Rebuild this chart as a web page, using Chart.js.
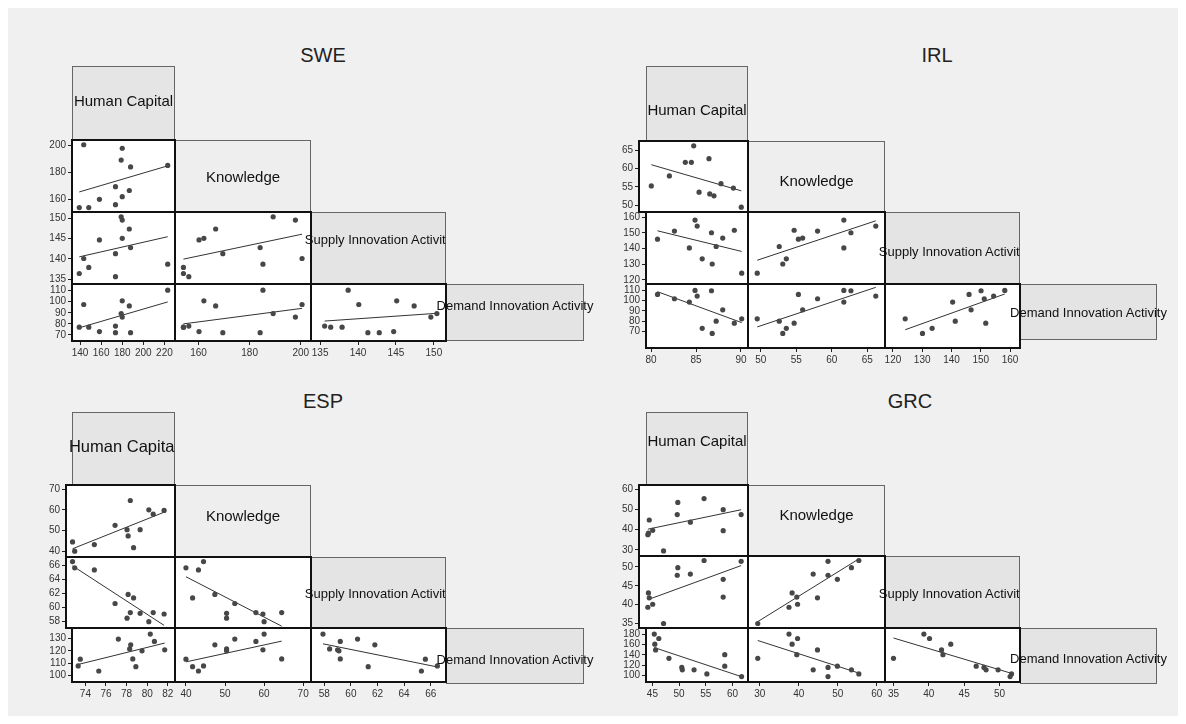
<!DOCTYPE html>
<html>
<head>
<meta charset="utf-8">
<script src="https://cdn.jsdelivr.net/npm/chart.js@4.4.0/dist/chart.umd.min.js"></script>
<style>
  body { margin: 0; background: #fff; font-family: "Liberation Sans", Arial, sans-serif; }
  #bg { position: absolute; left: 8px; top: 8px; width: 1170px; height: 708px; background: #f0f0f0; }
  .title { position: absolute; font-size: 20px; color: #222; transform: translate(-50%, -50%); white-space: nowrap; }
  .box { position: absolute; box-sizing: border-box; border: 1px solid #666; }
  .lab { position: absolute; display: flex; align-items: center; justify-content: center;
         white-space: nowrap; color: #111; z-index: 3; }
  canvas { position: absolute; z-index: 2; }
</style>
</head>
<body>
<div id="bg"></div>
<script>
const varNames = ['Human Capital', 'Knowledge', 'Supply Innovation Activity', 'Demand Innovation Activity'];

// Sweden
const sweHumanCapital = [139.3, 143.5, 148.3, 158.4, 173.6, 173.6, 179, 180, 180, 186.7, 187.9, 223.1];
const sweKnowledge    = [154.1, 200.5, 154.1, 160.2, 169.5, 156.2, 189.2, 197.9, 162.1, 166.7, 184.1, 185.2];
const sweSupply       = [136.4, 140.1, 137.9, 144.7, 141.3, 135.6, 150.4, 149.6, 145.1, 147.4, 142.8, 138.7];
const sweDemand       = [77, 97.5, 77, 73, 72, 78, 89.3, 86.1, 100.8, 96.2, 72, 110.4];
const sweTicks = [[140, 160, 180, 200, 220], [160, 180, 200], [135, 140, 145, 150], [70, 80, 90, 100, 110]];

// Ireland
const irlHumanCapital = [80.72, 82.6, 84.26, 84.89, 85.13, 85.69, 86.72, 86.8, 87.24, 87.97, 89.26, 90.08];
const irlKnowledge    = [55.3, 58.0, 61.7, 61.7, 66.2, 53.6, 62.7, 53.1, 52.6, 55.9, 54.7, 49.5];
const irlSupply       = [146.0, 151.2, 140.4, 158.2, 154.4, 133.4, 150.1, 130.1, 141.3, 146.7, 151.7, 124.2];
const irlDemand       = [106.1, 101.9, 98.6, 110, 104.5, 73, 109.7, 68, 80, 91.1, 78, 82.3];
const irlTicks = [[80, 85, 90], [50, 55, 60, 65], [120, 130, 140, 150, 160], [70, 80, 90, 100, 110]];

// Spain
const espHumanCapital = [73.3, 73.5, 75.3, 77.2, 78.3, 78.4, 78.6, 78.9, 79.5, 80.3, 80.7, 81.7];
const espKnowledge    = [44.5, 40, 43.2, 52.5, 50.4, 47.4, 64.5, 41.7, 50.4, 60, 57.9, 59.7];
const espSupply       = [66.5, 65.6, 65.3, 60.5, 58.4, 61.8, 59.2, 61.3, 59.1, 57.9, 59.2, 59];
const espDemand       = [107.8, 113.3, 103.7, 129.5, 121.6, 124.9, 113.5, 107.2, 120, 133.6, 127.6, 120.8];
const espTicks = [[74, 76, 78, 80, 82], [40, 50, 60, 70], [58, 60, 62, 64, 66], [100, 110, 120, 130]];

// Greece
const grcHumanCapital = [45.35, 45.45, 45.6, 46.2, 48.1, 50.5, 50.6, 52.8, 55.2, 58.55, 58.55, 61.7];
const grcKnowledge    = [37.5, 38.3, 44.8, 39.7, 29.5, 47.5, 53.5, 43.7, 55.4, 49.9, 39.5, 47.5];
const grcSupply       = [39.3, 43.1, 41.8, 40.1, 35, 47.8, 49.8, 48.1, 51.7, 46.7, 42, 51.5];
const grcDemand       = [180, 160.5, 149.4, 171.4, 133.2, 115.6, 110.9, 110.9, 103.1, 118.1, 140.2, 98];
const grcTicks = [[45, 50, 55, 60], [30, 40, 50, 60], [35, 40, 45, 50], [100, 120, 140, 160, 180]];

// xs: column edges, ys: row edges (diagonal header row first), rowLeft: left edge of first column per row,
// labDy: vertical nudge of each header text, labSize: header font sizes
const panels = [
  { title: 'SWE', at: [323, 55], vars: [sweHumanCapital, sweKnowledge, sweSupply, sweDemand], ticks: sweTicks,
    lim: [[132.4, 230], [150.8, 204], [133.8, 151.6], [64.5, 116]],
    xs: [72, 175, 311, 446, 584], ys: [66, 140, 212, 284, 341], rowLeft: [72, 72, 72], dBottom: 341,
    labDy: [-3, 0, -9, -7], labSize: [15, 15, 13, 13] },
  { title: 'IRL', at: [937, 55], vars: [irlHumanCapital, irlKnowledge, irlSupply, irlDemand], ticks: irlTicks,
    lim: [[79.44, 90.78], [48.2, 67.5], [117.3, 163.4], [53.8, 116.3]],
    xs: [646, 748, 885, 1020, 1157], ys: [66, 141, 212, 284, 348], rowLeft: [639, 646, 646], dBottom: 340,
    labDy: [6, 4, 3, 0], labSize: [15, 15, 13, 13] },
  { title: 'ESP', at: [323, 401], vars: [espHumanCapital, espKnowledge, espSupply, espDemand], ticks: espTicks,
    lim: [[72.7, 82.7], [37.2, 72], [57, 67.15], [94.8, 138.5]],
    xs: [72, 175, 311, 446, 584], ys: [412, 485, 557, 628, 682], rowLeft: [66, 66, 72], dBottom: 684,
    labDy: [-2, -6, 1, 3], labSize: [16.5, 15, 13, 13] },
  { title: 'GRC', at: [910, 401], vars: [grcHumanCapital, grcKnowledge, grcSupply, grcDemand], ticks: grcTicks,
    lim: [[43.8, 62.9], [27, 62.1], [33.8, 52.9], [87.5, 191.7]],
    xs: [646, 748, 885, 1020, 1157], ys: [412, 485, 556, 628, 682], rowLeft: [639, 639, 646], dBottom: 684,
    labDy: [-8, -6, 1, 2], labSize: [15, 15, 13, 13] }
];

const M = 40; // room around each plot cell for ticks and labels
const boxFill = ['#e5e5e5', '#eeeeee', '#e4e4e4', '#e4e4e4'];

// white plot area + dark frame
const cellFrame = {
  id: 'cellFrame',
  beforeDraw(chart) {
    const a = chart.chartArea, ctx = chart.ctx;
    ctx.save();
    ctx.fillStyle = '#fff';
    ctx.fillRect(a.left, a.top, a.width, a.height);
    ctx.restore();
  },
  afterDraw(chart) {
    const a = chart.chartArea, ctx = chart.ctx;
    ctx.save();
    ctx.strokeStyle = '#111';
    ctx.lineWidth = 2;
    ctx.strokeRect(a.left, a.top, a.width, a.height);
    ctx.restore();
  }
};

function fitLine(xv, yv) {
  const n = xv.length;
  const mx = xv.reduce((s, v) => s + v, 0) / n;
  const my = yv.reduce((s, v) => s + v, 0) / n;
  let sxy = 0, sxx = 0;
  for (let i = 0; i < n; i++) { sxy += (xv[i] - mx) * (yv[i] - my); sxx += (xv[i] - mx) ** 2; }
  const b = sxy / sxx, a = my - b * mx;
  const lo = Math.min(...xv), hi = Math.max(...xv);
  return [{ x: lo, y: a + b * lo }, { x: hi, y: a + b * hi }];
}

function axis(lim, ticks, show, dir) {
  return {
    type: 'linear', min: lim[0], max: lim[1], display: show,
    grid: { display: true, drawOnChartArea: false, drawTicks: true, tickLength: 4, color: '#222', lineWidth: 1 },
    border: { display: false },
    ticks: { autoSkip: false, maxRotation: 0, padding: 2, color: '#333',
             font: { family: '"Liberation Sans", Arial, sans-serif', size: 10 } },
    afterBuildTicks: s => { s.ticks = ticks.map(v => ({ value: v })); },
    afterFit: s => {
      const size = show ? M : 0;
      if (dir === 'x') s.height = size; else s.width = size;
      s.paddingLeft = s.paddingRight = s.paddingTop = s.paddingBottom = 0;
    }
  };
}

function el(cls, css, text) {
  const d = document.createElement('div');
  d.className = cls;
  Object.assign(d.style, css);
  if (text) d.textContent = text;
  document.body.appendChild(d);
  return d;
}

function drawCell(p, r, c) {
  const left = c === 0 ? p.rowLeft[r - 1] : p.xs[c];
  const right = p.xs[c + 1], top = p.ys[r], bottom = p.ys[r + 1];
  const showY = c === 0, showX = r === 3;
  const cv = document.createElement('canvas');
  cv.width = right - left + 2 * M;
  cv.height = bottom - top + 2 * M;
  cv.style.left = (left - M) + 'px';
  cv.style.top = (top - M) + 'px';
  document.body.appendChild(cv);

  const xv = p.vars[c], yv = p.vars[r];
  const pts = xv.map((x, i) => ({ x, y: yv[i] }));

  new Chart(cv, {
    type: 'scatter',
    data: {
      datasets: [
        { data: pts, pointRadius: 2.6, pointBackgroundColor: '#474747', pointBorderWidth: 0, clip: false, order: 0 },
        { data: fitLine(xv, yv), showLine: true, borderColor: '#333', borderWidth: 1, pointRadius: 0, clip: false, order: 1 }
      ]
    },
    options: {
      responsive: false, animation: false, events: [],
      layout: { padding: { left: showY ? 0 : M, right: M, top: M, bottom: showX ? 0 : M } },
      plugins: { legend: { display: false }, tooltip: { enabled: false } },
      scales: { x: axis(p.lim[c], p.ticks[c], showX, 'x'), y: axis(p.lim[r], p.ticks[r], showY, 'y') }
    },
    plugins: [cellFrame]
  });
}

panels.forEach(p => {
  el('title', { left: p.at[0] + 'px', top: p.at[1] + 'px' }, p.title);

  for (let i = 0; i < 4; i++) {
    const left = p.xs[i], right = p.xs[i + 1];
    const top = p.ys[i], bottom = i === 3 ? p.dBottom : p.ys[i + 1];
    const rect = { left: left + 'px', top: top + 'px', width: (right - left) + 'px', height: (bottom - top) + 'px' };
    el('box', Object.assign({ background: boxFill[i] }, rect));
    const lab = el('lab', {
      fontSize: p.labSize[i] + 'px', left: rect.left, top: (top + p.labDy[i]) + 'px',
      width: rect.width, height: rect.height
    }, varNames[i]);
    // the first and third headers are cut off at their right edge
    if (i === 0 || i === 2) lab.style.clipPath = 'inset(-10px 0 -10px -200px)';
  }

  for (let r = 1; r < 4; r++)
    for (let c = 0; c < r; c++) drawCell(p, r, c);
});
</script>
</body>
</html>
